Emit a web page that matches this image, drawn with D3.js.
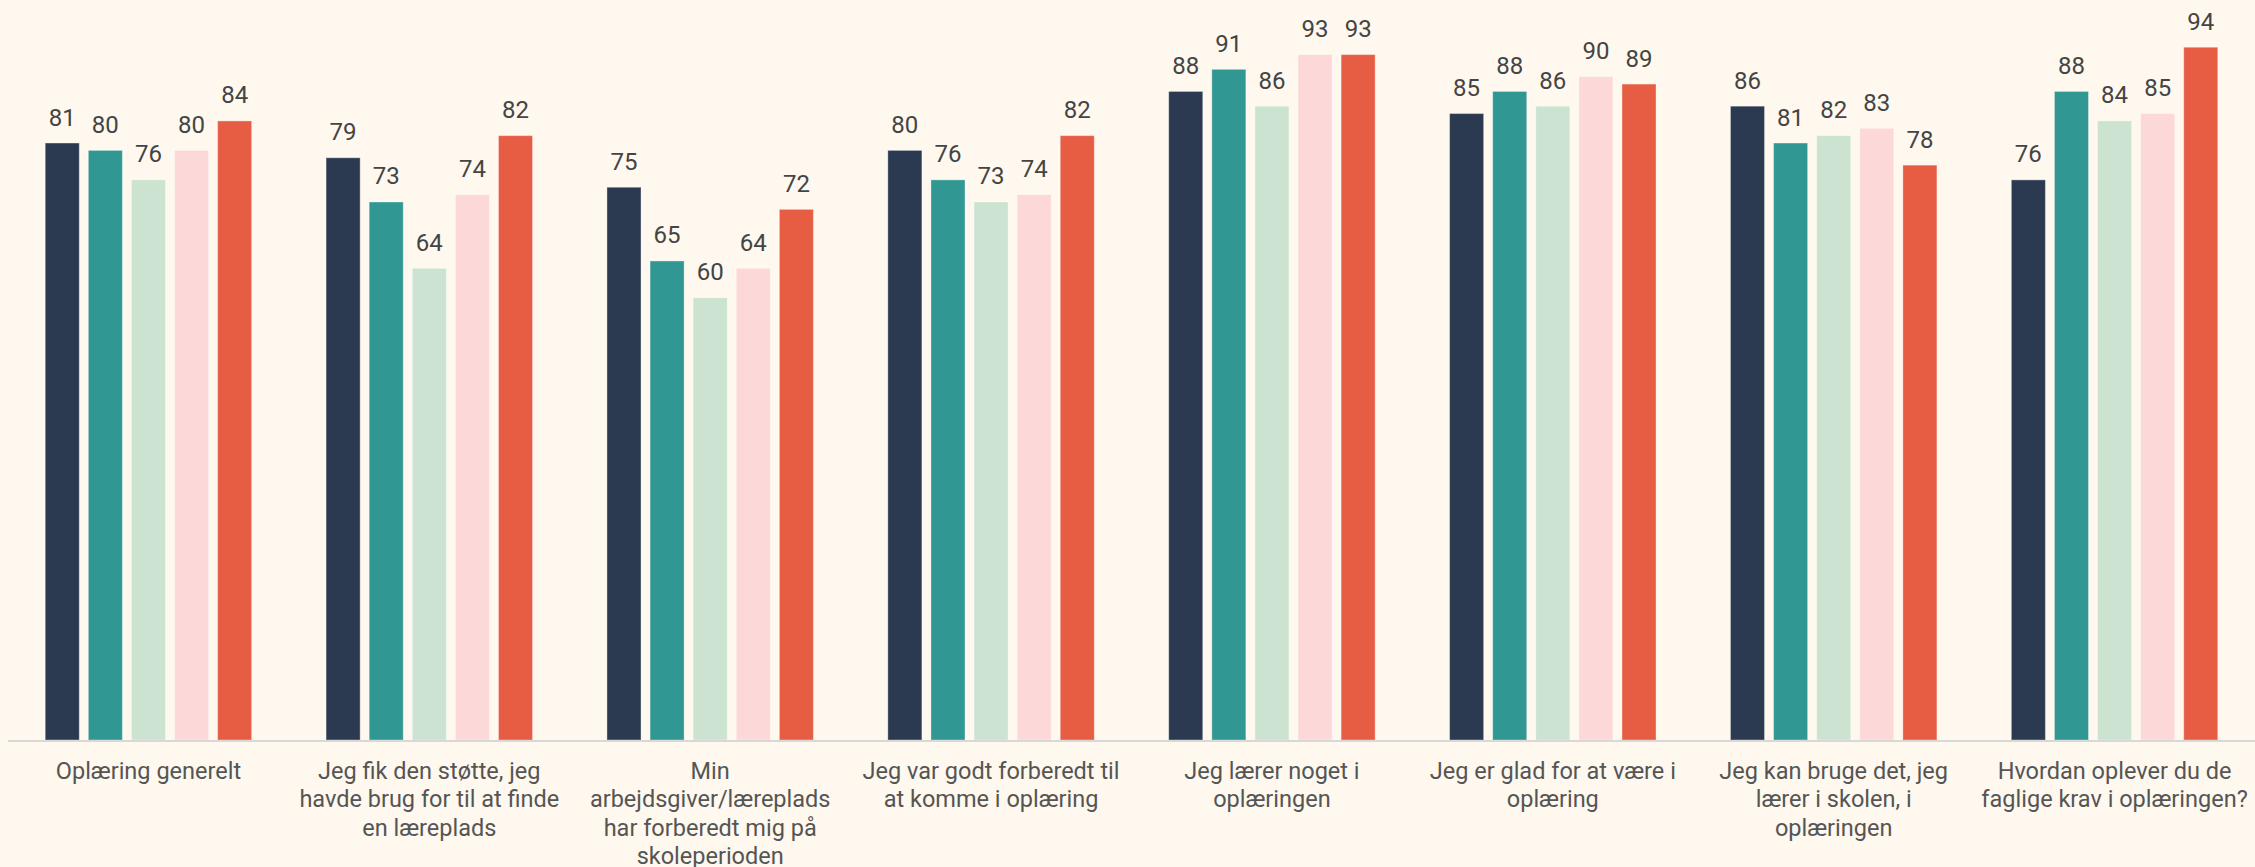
<!DOCTYPE html>
<html><head><meta charset="utf-8">
<script src="https://cdn.jsdelivr.net/npm/d3@7"></script>
<style>
html,body{margin:0;padding:0;background:#fef8ee;}
svg{display:block;}
text{font-family:Roboto,"Noto Sans",sans-serif;}
</style></head>
<body>
<svg id="chart" width="2255" height="867"></svg>
<script>
const categories = [
  "Oplæring generelt",
  "Jeg fik den støtte, jeg\nhavde brug for til at finde\nen læreplads",
  "Min\narbejdsgiver/læreplads\nhar forberedt mig på\nskoleperioden",
  "Jeg var godt forberedt til\nat komme i oplæring",
  "Jeg lærer noget i\noplæringen",
  "Jeg er glad for at være i\noplæring",
  "Jeg kan bruge det, jeg\nlærer i skolen, i\noplæringen",
  "Hvordan oplever du de\nfaglige krav i oplæringen?"
];
const seriesNames = ["Serie 1", "Serie 2", "Serie 3", "Serie 4", "Serie 5"];
const serie1 = [81, 79, 75, 80, 88, 85, 86, 76];
const serie2 = [80, 73, 65, 76, 91, 88, 81, 88];
const serie3 = [76, 64, 60, 73, 86, 86, 82, 84];
const serie4 = [80, 74, 64, 74, 93, 90, 83, 85];
const serie5 = [84, 82, 72, 82, 93, 89, 78, 94];
const seriesValues = [serie1, serie2, serie3, serie4, serie5];
const colors = ["#2b3a50", "#319793", "#cce3d2", "#fcd8d8", "#e65d44"];

const svg = d3.select("#chart");
const baseY = 740;
const y = d3.scaleLinear().domain([0, 100]).range([baseY, 3]);
const x0 = d3.scaleBand().domain(categories).range([8, 2255]).paddingInner(0.265).paddingOuter(0.1325);
const x1 = d3.scaleBand().domain(seriesNames).range([0, x0.bandwidth()]).paddingInner(0.21).paddingOuter(0);

const groups = svg.append("g").selectAll("g").data(categories).join("g")
  .attr("transform", d => `translate(${x0(d)},0)`);

groups.each(function(cat, ci) {
  const g = d3.select(this);
  const rows = seriesNames.map((s, si) => ({s, si, v: seriesValues[si][ci]}));
  g.selectAll("rect").data(rows).join("rect")
    .attr("x", d => x1(d.s))
    .attr("width", x1.bandwidth())
    .attr("y", d => y(d.v))
    .attr("height", d => baseY - y(d.v))
    .attr("fill", d => colors[d.si])
    .attr("stroke", "rgba(255,255,255,0.35)")
    .attr("stroke-width", 1);
  g.selectAll("text.val").data(rows).join("text")
    .attr("class", "val")
    .attr("x", d => x1(d.s) + x1.bandwidth() / 2)
    .attr("y", d => y(d.v) - 17.5)
    .attr("text-anchor", "middle")
    .attr("font-size", 24)
    .attr("fill", "#444444")
    .text(d => d.v);
});

// axis line
svg.append("line").attr("x1", 8).attr("x2", 2255).attr("y1", baseY + 1).attr("y2", baseY + 1)
  .attr("stroke", "#d8d8d8").attr("stroke-width", 2);

// category labels
const labels = svg.append("g").selectAll("text").data(categories).join("text")
  .attr("x", d => x0(d) + x0.bandwidth() / 2)
  .attr("y", 779)
  .attr("text-anchor", "middle")
  .attr("font-size", 23.5)
  .attr("fill", "#555555");
labels.each(function(d) {
  const t = d3.select(this);
  d.split("\n").forEach((line, i) => {
    t.append("tspan").attr("x", x0(d) + x0.bandwidth() / 2).attr("dy", i === 0 ? 0 : 28.4).text(line);
  });
});
</script>
</body></html>
